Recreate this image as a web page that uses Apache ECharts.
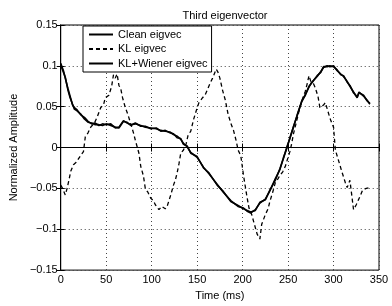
<!DOCTYPE html>
<html>
<head>
<meta charset="utf-8">
<script src="https://cdn.jsdelivr.net/npm/echarts@6/dist/echarts.min.js"></script>
<style>
html, body { margin: 0; padding: 0; background: #fff; }
#main { width: 392px; height: 306px; }
</style>
</head>
<body>
<div id="main"></div>
<script>
// values (time in ms)
var cleanT = [0, 3, 5, 8, 10, 13, 15, 18, 22, 26, 30, 34, 38, 42, 46, 50, 55, 60, 64, 69, 73, 77, 82, 88, 93, 99, 105, 110, 115, 120, 124, 128, 132, 135, 139, 143, 150, 157, 163, 172, 179, 187, 195, 201, 205, 209, 214, 219, 225, 230, 236, 241, 245, 249, 252, 256, 260, 265, 269, 273, 276, 282, 286, 289, 293, 296, 300, 304, 308, 311, 315, 318, 322, 326, 328, 333, 337, 340];
var cleanV = [0.103, 0.094, 0.085, 0.072, 0.064, 0.052, 0.049, 0.046, 0.040, 0.037, 0.032, 0.029, 0.030, 0.027, 0.029, 0.028, 0.029, 0.024, 0.025, 0.033, 0.030, 0.028, 0.029, 0.027, 0.025, 0.024, 0.023, 0.021, 0.020, 0.019, 0.016, 0.014, 0.010, 0.005, 0.001, -0.006, -0.012, -0.024, -0.032, -0.045, -0.055, -0.065, -0.072, -0.074, -0.078, -0.080, -0.076, -0.068, -0.063, -0.053, -0.038, -0.027, -0.012, 0.000, 0.012, 0.025, 0.040, 0.056, 0.065, 0.074, 0.080, 0.087, 0.093, 0.098, 0.100, 0.099, 0.100, 0.094, 0.090, 0.087, 0.081, 0.075, 0.068, 0.061, 0.068, 0.063, 0.058, 0.053];
var wienerV = [0.101, 0.092, 0.086, 0.070, 0.062, 0.053, 0.047, 0.045, 0.041, 0.035, 0.031, 0.030, 0.028, 0.028, 0.027, 0.029, 0.027, 0.025, 0.024, 0.032, 0.031, 0.027, 0.030, 0.026, 0.026, 0.023, 0.024, 0.020, 0.021, 0.018, 0.017, 0.012, 0.011, 0.004, 0.002, -0.007, -0.011, -0.025, -0.031, -0.046, -0.054, -0.066, -0.071, -0.075, -0.077, -0.079, -0.077, -0.067, -0.064, -0.052, -0.040, -0.026, -0.013, 0.002, 0.011, 0.026, 0.039, 0.057, 0.064, 0.075, 0.079, 0.088, 0.092, 0.099, 0.099, 0.100, 0.099, 0.095, 0.089, 0.088, 0.080, 0.076, 0.067, 0.062, 0.067, 0.064, 0.057, 0.054];

var klT = [0, 2, 5, 7, 9, 11, 14, 17, 20, 23, 25, 27, 30, 33, 37, 40, 44, 47, 49, 53, 56, 58, 60, 62, 64, 66, 68, 71, 74, 77, 80, 82, 86, 88, 91, 93, 96, 99, 102, 104, 106, 108, 111, 113, 115, 117, 121, 124, 126, 128, 130, 132, 135, 138, 140, 143, 146, 149, 152, 156, 159, 161, 164, 167, 171, 173, 175, 178, 181, 184, 187, 190, 193, 195, 198, 201, 204, 207, 210, 212, 216, 219, 221, 223, 225, 228, 230, 233, 236, 239, 241, 244, 247, 250, 252, 254, 256, 260, 263, 266, 269, 271, 273, 275, 278, 280, 283, 285, 287, 289, 291, 293, 295, 297, 300, 302, 305, 309, 313, 315, 318, 320, 322, 325, 329, 332, 336, 339];
var klV = [-0.046, -0.050, -0.058, -0.050, -0.040, -0.029, -0.021, -0.018, -0.013, -0.008, -0.005, 0.013, 0.018, 0.025, 0.030, 0.037, 0.049, 0.052, 0.061, 0.064, 0.075, 0.089, 0.085, 0.090, 0.076, 0.072, 0.061, 0.049, 0.040, 0.029, 0.018, 0.009, -0.007, -0.023, -0.035, -0.050, -0.055, -0.062, -0.065, -0.070, -0.068, -0.076, -0.072, -0.070, -0.075, -0.072, -0.058, -0.046, -0.040, -0.031, -0.020, -0.007, -0.003, 0.005, 0.015, 0.020, 0.034, 0.045, 0.055, 0.061, 0.065, 0.070, 0.078, 0.085, 0.096, 0.092, 0.085, 0.070, 0.058, 0.041, 0.030, 0.021, 0.008, -0.003, -0.010, -0.034, -0.055, -0.074, -0.082, -0.090, -0.106, -0.112, -0.094, -0.088, -0.082, -0.075, -0.066, -0.055, -0.043, -0.038, -0.034, -0.030, -0.023, -0.012, -0.005, 0.005, 0.017, 0.035, 0.049, 0.060, 0.069, 0.078, 0.088, 0.081, 0.078, 0.073, 0.062, 0.049, 0.050, 0.052, 0.055, 0.057, 0.040, 0.033, 0.025, -0.003, -0.014, -0.029, -0.043, -0.049, -0.040, -0.058, -0.076, -0.070, -0.060, -0.052, -0.050, -0.049];

var seriesNames = ['Clean eigvec', 'KL eigvec', 'KL+Wiener eigvec'];

function pairs(t, v) {
	var out = [];
	for (var i = 0; i < t.length; i++) {
		out.push([t[i], v[i]]);
	}
	return out;
}

function yLabel(v) {
	var s = String(Math.round(v * 100) / 100);
	return s.replace('-', '\u2212');
}

var font = 'Liberation Sans, Arial, Helvetica, sans-serif';
var dotted = { color: '#444', type: [1, 3], width: 1 };

var option = {
	animation: false,
	backgroundColor: '#fff',
	title: {
		text: 'Third eigenvector',
		left: 220,
		textAlign: 'center',
		top: 5,
		textStyle: { fontFamily: font, fontSize: 11, fontWeight: 'normal', color: '#000' }
	},
	grid: {
		left: 60, right: 13, top: 25, bottom: 29,
		show: true, borderColor: '#000', borderWidth: 1, backgroundColor: '#fff'
	},
	legend: {
		orient: 'vertical',
		left: 83, top: 26,
		padding: [3, 4, 3, 5],
		itemWidth: 24, itemHeight: 10, itemGap: 3.5,
		itemStyle: { opacity: 0, borderWidth: 0 },
		backgroundColor: '#fff', borderColor: '#000', borderWidth: 1,
		textStyle: { fontFamily: font, fontSize: 11, color: '#000' },
		data: seriesNames
	},
	xAxis: [{
		type: 'value', min: 0, max: 350, interval: 50,
		name: 'Time (ms)', nameLocation: 'middle', nameGap: 14,
		nameTextStyle: { fontFamily: font, fontSize: 11, color: '#000' },
		axisLine: { show: true, lineStyle: { color: '#000' } },
		axisTick: { inside: true, length: 4, lineStyle: { color: '#000' } },
		axisLabel: { fontFamily: font, fontSize: 11, color: '#000', margin: 4 },
		splitLine: { show: true, lineStyle: dotted }
	}, {
		type: 'value', min: 0, max: 350, interval: 50, position: 'top',
		axisLine: { show: true, lineStyle: { color: '#000' } },
		axisTick: { inside: true, length: 4, lineStyle: { color: '#000' } },
		axisLabel: { show: false }, splitLine: { show: false }
	}],
	yAxis: [{
		type: 'value', min: -0.15, max: 0.15, interval: 0.05,
		name: 'Normalized Amplitude', nameLocation: 'middle', nameGap: 35,
		nameTextStyle: { fontFamily: font, fontSize: 11, color: '#000' },
		axisLine: { show: true, lineStyle: { color: '#000' } },
		axisTick: { inside: true, length: 4, lineStyle: { color: '#000' } },
		axisLabel: { fontFamily: font, fontSize: 11, color: '#000', margin: 3,
			formatter: yLabel },
		splitLine: { show: true, lineStyle: dotted }
	}, {
		type: 'value', min: -0.15, max: 0.15, interval: 0.05, position: 'right',
		axisLine: { show: true, lineStyle: { color: '#000' } },
		axisTick: { inside: true, length: 4, lineStyle: { color: '#000' } },
		axisLabel: { show: false }, splitLine: { show: false }
	}],
	series: [{
		name: seriesNames[0], type: 'line', symbol: 'none',
		data: pairs(cleanT, cleanV),
		lineStyle: { color: '#000', width: 1.6 }, itemStyle: { color: '#000' }
	}, {
		name: seriesNames[1], type: 'line', symbol: 'none',
		data: pairs(klT, klV),
		lineStyle: { color: '#000', width: 1.3, type: [4, 3] }, itemStyle: { color: '#000' }
	}, {
		name: seriesNames[2], type: 'line', symbol: 'none',
		data: pairs(cleanT, wienerV),
		lineStyle: { color: '#000', width: 1.6 }, itemStyle: { color: '#000' }
	}]
};

var myChart = echarts.init(document.getElementById('main'));
myChart.setOption(option);
</script>
</body>
</html>
